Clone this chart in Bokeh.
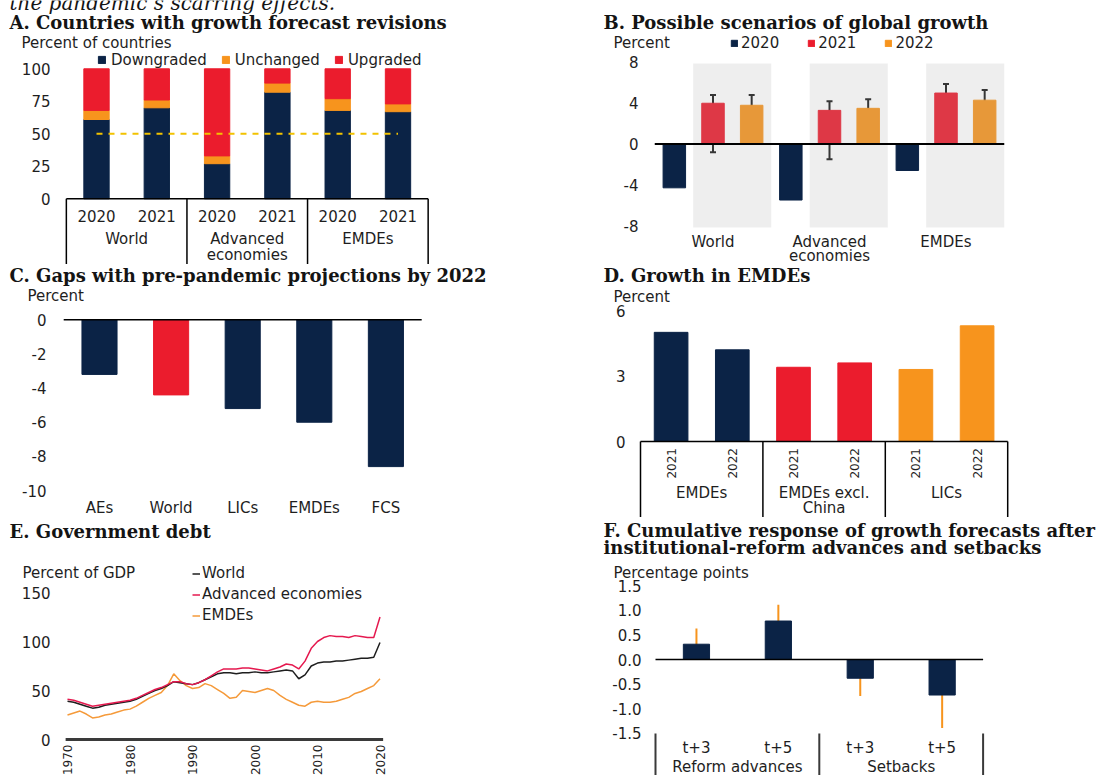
import numpy as np
from bokeh.plotting import figure
from bokeh.models import (ColumnDataSource, Range1d, Label, Legend, LegendItem, FixedTicker,
                          PrintfTickFormatter, Whisker, TeeHead)
from bokeh.layouts import column, row
from bokeh.embed import file_html
from bokeh.resources import INLINE
from bokeh.core.properties import value

# ---------------- data ----------------
# A. Countries with growth forecast revisions
a_groups = ["World", "Advanced\neconomies", "EMDEs"]
a_years = ["2020", "2021"]
a_series = ["Downgraded", "Unchanged", "Upgraded"]
a_downgraded = [61, 70, 27, 82, 68, 67]
a_unchanged = [7, 6, 6, 7, 9, 6]
a_upgraded = [32, 24, 67, 11, 23, 27]
a_threshold = 50
a_yticks = [0, 25, 50, 75, 100]

# B. Possible scenarios of global growth
b_groups = ["World", "Advanced\neconomies", "EMDEs"]
b_years = ["2020", "2021", "2022"]
b_2020 = [-4.3, -5.5, -2.6]
b_2021 = [4.0, 3.3, 5.0]
b_2022 = [3.8, 3.5, 4.3]
b_2021_low = [-0.8, -1.5, 0.5]
b_2021_high = [4.8, 4.2, 5.9]
b_2022_low = [1.8, 1.4, 2.6]
b_2022_high = [4.8, 4.4, 5.3]
b_yticks = [-8, -4, 0, 4, 8]

# C. Gaps with pre-pandemic projections by 2022
c_cats = ["AEs", "World", "LICs", "EMDEs", "FCS"]
c_vals = [-3.2, -4.4, -5.2, -6.0, -8.6]
c_yticks = [-10, -8, -6, -4, -2, 0]

# D. Growth in EMDEs
d_groups = ["EMDEs", "EMDEs excl.\nChina", "LICs"]
d_years = ["2021", "2022"]
d_vals = [5.0, 4.2, 3.4, 3.6, 3.3, 5.3]
d_yticks = [0, 3, 6]

# E. Government debt
e_years = list(range(1970, 2021))
e_world = [39, 38, 36, 34, 32, 33, 35, 36, 37, 38,
           39, 41, 44, 47, 50, 52, 55, 59, 58, 57,
           56, 58, 61, 64, 67, 68, 68, 67, 68, 68,
           69, 68, 68, 69, 70, 71, 70, 62, 66, 75,
           78, 79, 79, 80, 80, 81, 82, 83, 83, 84,
           99]
e_adv = [41, 40, 38, 36, 34, 35, 36, 37, 38, 39,
         40, 42, 45, 48, 51, 53, 56, 59, 59, 57,
         56, 58, 61, 65, 69, 72, 72, 72, 73, 73,
         72, 71, 70, 72, 74, 77, 76, 72, 80, 93,
         100, 104, 106, 105, 105, 104, 106, 105, 104, 104,
         125]
e_emde = [25, 27, 29, 26, 22, 23, 25, 26, 28, 30,
          31, 34, 38, 42, 45, 48, 55, 67, 60, 55,
          52, 53, 57, 55, 51, 47, 42, 43, 50, 49,
          48, 50, 52, 50, 45, 41, 38, 35, 34, 38,
          39, 38, 38, 39, 41, 43, 47, 49, 52, 55,
          62]
e_series = ["World", "Advanced economies", "EMDEs"]
e_yticks = [0, 50, 100, 150]
e_xticks = [1970, 1980, 1990, 2000, 2010, 2020]

# F. Cumulative response of growth forecasts
f_groups = ["Reform advances", "Setbacks"]
f_horizons = ["t+3", "t+5"]
f_vals = [0.31, 0.78, -0.38, -0.72]
f_low = [0.0, 0.44, -0.74, -1.39]
f_high = [0.63, 1.11, -0.03, -0.05]
f_yticks = [-1.5, -1.0, -0.5, 0.0, 0.5, 1.0, 1.5]

# ---------------- style ----------------
NAVY = "#0B2346"
RED = "#EB1C2D"
ORANGE = "#F7941D"
TXT = "#1E1E1E"
SANS = "DejaVu Sans"
SERIF = "DejaVu Serif"
FS = "15px"


def make_fig(w, h, x0, xu, y0, yu, yticks, fmt, label_right):
    """Frame covers the whole figure; pixel mapping px = x0 + xu*x, py = y0 - yu*y."""
    xr = Range1d(-x0 / xu, (w - x0) / xu)
    yr = Range1d((y0 - h) / yu, y0 / yu)
    p = figure(width=w, height=h, x_range=xr, y_range=yr, title=None,
               toolbar_location=None, output_backend="svg", x_axis_location=None,
               min_border_left=0, min_border_right=0, min_border_top=0, min_border_bottom=0)
    p.outline_line_color = None
    p.grid.grid_line_color = None
    p.background_fill_color = "white"
    p.border_fill_color = "white"
    ax = p.yaxis[0]
    ax.ticker = FixedTicker(ticks=yticks)
    ax.formatter = PrintfTickFormatter(format=fmt)
    ax.axis_line_color = None
    ax.major_tick_line_color = None
    ax.minor_tick_line_color = None
    ax.major_tick_out = 0
    ax.major_tick_in = 0
    ax.minor_tick_out = 0
    ax.major_label_standoff = -label_right
    ax.major_label_text_font = SANS
    ax.major_label_text_font_size = FS
    ax.major_label_text_color = TXT
    return p


def label(p, x, y, text, size=FS, font=SANS, style="normal", color=TXT, baseline="middle"):
    p.add_layout(Label(x=x, y=y, x_units="canvas", y_units="canvas", text=text,
                       text_font=font, text_font_size=size, text_font_style=style,
                       text_color=color, text_align="left", text_baseline=baseline))


def title(p, x, y, text):
    label(p, x, y, text, size="18px", font=SERIF, style="bold", color="#141414")


def txt(p, xs, ys, texts, size=FS, angle=0.0, align="center"):
    src = ColumnDataSource(dict(x=list(xs), y=list(ys), t=list(texts)))
    p.text(x="x", y="y", text="t", source=src, text_font=value(SANS),
           text_font_size=value(size), text_color=TXT, text_align=align,
           text_baseline="middle", angle=angle)


def group_labels(p, centers, labels, y_first, step):
    xs, ys, ts = [], [], []
    for c, lab in zip(centers, labels):
        for i, line in enumerate(lab.split("\n")):
            xs.append(c)
            ys.append(y_first - i * step)
            ts.append(line)
    txt(p, xs, ys, ts)


def legend(p, items, x, y, orientation, gw, gh, rh, standoff, spacing):
    lg = Legend(items=[LegendItem(label=l, renderers=[r]) for l, r in items],
                location=(x, y), orientation=orientation, glyph_width=gw, glyph_height=gh,
                label_height=rh, label_standoff=standoff, spacing=spacing, padding=0, margin=0,
                label_text_font=SANS, label_text_font_size=FS, label_text_color=TXT,
                background_fill_alpha=0, border_line_color=None)
    p.add_layout(lg)


def box(p, n_groups, per_group, y_top, line_color="black", width=1.5, top_line=True):
    seps = np.arange(n_groups + 1) * per_group
    p.segment(x0=seps, y0=[y_top] * len(seps), x1=seps, y1=[p.y_range.start] * len(seps),
              line_color=line_color, line_width=width)
    if top_line:
        p.segment(x0=[seps[0]], y0=[y_top], x1=[seps[-1]], y1=[y_top],
                  line_color=line_color, line_width=width)


# ---------------- A ----------------
pA = make_fig(560, 264, 65.85, 60.3, 198.3, 1.3, a_yticks, "%d", 50)
xa = np.arange(len(a_downgraded)) + 0.5
srcA = ColumnDataSource(dict(x=xa, Downgraded=a_downgraded, Unchanged=a_unchanged,
                             Upgraded=a_upgraded))
rA = pA.vbar_stack(a_series, x="x", width=0.42, color=[NAVY, ORANGE, RED], source=srcA)
pA.line(x=[xa[0], xa[-1]], y=[a_threshold, a_threshold], line_color="#F2C200",
        line_width=2, line_dash="6 6")
box(pA, len(a_groups), len(a_years), 0)
txt(pA, xa, [-12.85] * len(xa), a_years * len(a_groups))
group_labels(pA, np.arange(len(a_groups)) * len(a_years) + len(a_years) / 2, a_groups, -31.3, 12.3)
legend(pA, list(zip(a_series, rA)), 97, 195.5, "horizontal", 9, 9, 9, 5, 14)
label(pA, 9, 2, "the pandemic\u2019s scarring effects.", size="20px", font=SERIF,
      style="italic", color="#141414", baseline="alphabetic")
title(pA, 9, 21.5, "A. Countries with growth forecast revisions")
label(pA, 21, 42, "Percent of countries")

# ---------------- B ----------------
pB = make_fig(560, 264, 152.5, 116.5, 143.5, 10.19, b_yticks, "%d", 78)
xb = np.arange(len(b_groups))
off, bw = 0.332, 0.193
rB = []
for i, (vals, col) in enumerate([(b_2020, NAVY), (b_2021, RED), (b_2022, ORANGE)]):
    rB.append(pB.vbar(x=xb + (i - 1) * off, top=vals, bottom=0, width=bw, color=col))
pB.quad(left=xb - 0.17, right=xb + 0.5, bottom=-8.2, top=7.9, fill_color="#A8A8A8",
        fill_alpha=0.2, line_color=None)
pB.segment(x0=[xb[0] - 0.5], y0=[0], x1=[xb[-1] + 0.5], y1=[0], line_color="black", line_width=2)
for i, (lo, hi) in enumerate([(b_2021_low, b_2021_high), (b_2022_low, b_2022_high)]):
    srcW = ColumnDataSource(dict(x=xb + i * off, lo=lo, hi=hi))
    pB.add_layout(Whisker(source=srcW, base="x", lower="lo", upper="hi",
                          line_color="#1A1A1A", line_width=2,
                          upper_head=TeeHead(size=6, line_color="#1A1A1A", line_width=2),
                          lower_head=TeeHead(size=6, line_color="#1A1A1A", line_width=2)))
group_labels(pB, xb, b_groups, -9.57, 1.42)
legend(pB, list(zip(b_years, rB)), 170, 212.5, "horizontal", 8, 8, 9, 3, 28)
title(pB, 43, 21.5, "B. Possible scenarios of global growth")
label(pB, 53, 42, "Percent")

# ---------------- C ----------------
pC = make_fig(560, 253, 63.2, 71.6, 55.3, 17.07, c_yticks, "%d", 46)
xc = np.arange(len(c_cats)) + 0.5
c_colors = [RED if c == "World" else NAVY for c in c_cats]
pC.vbar(x=xc, top=0, bottom=c_vals, width=0.49, color=c_colors)
pC.segment(x0=[0], y0=[0], x1=[len(c_cats)], y1=[0], line_color="black", line_width=1.5)
txt(pC, xc, [-11.0] * len(xc), c_cats)
title(pC, 9, 10.5, "C. Gaps with pre-pandemic projections by 2022")
label(pC, 27, 31, "Percent")

# ---------------- D ----------------
pD = make_fig(560, 253, 80, 61.2, 177, 21.83, d_yticks, "%d", 65)
xd = np.arange(len(d_vals)) + 0.5
grp_colors = [NAVY, RED, ORANGE]
d_colors = [grp_colors[i // len(d_years)] for i in range(len(d_vals))]
pD.vbar(x=xd, top=d_vals, width=0.55, color=d_colors)
box(pD, len(d_groups), len(d_years), 0)
txt(pD, xd, [-1.0] * len(xd), d_years * len(d_groups), size="12px", angle=np.pi / 2)
group_labels(pD, np.arange(len(d_groups)) * len(d_years) + len(d_years) / 2, d_groups, -2.38, 0.66)
title(pD, 43, 11, "D. Growth in EMDEs")
label(pD, 53, 32, "Percent")

# ---------------- E ----------------
pE = make_fig(560, 258, 67 - 6.25 * 1970, 6.25, 222, 0.98, e_yticks, "%d", 50)
pE.segment(x0=[e_years[0] - 0.3], y0=[0], x1=[e_years[-1] + 0.5], y1=[0],
           line_color="#3A3A3A", line_width=3)
rE_em = pE.line(e_years, e_emde, line_color="#F59A3A", line_width=1.5)
rE_w = pE.line(e_years, e_world, line_color="#1E1E1E", line_width=1.5)
rE_a = pE.line(e_years, e_adv, line_color="#E5194F", line_width=1.5)
txt(pE, e_xticks, [-5.1] * len(e_xticks), [str(y) for y in e_xticks], size="12px",
    angle=np.pi / 2, align="right")
legend(pE, list(zip(e_series, [rE_w, rE_a, rE_em])), 192, 149.5, "vertical", 8, 21, 21, 2, 0)
title(pE, 9, 14, "E. Government debt")
label(pE, 22, 55, "Percent of GDP")

# ---------------- F ----------------
pF = make_fig(560, 258, 95, 81.9, 142, 49.33, f_yticks, "%.1f", 81)
xf = np.arange(len(f_vals)) + 0.5
pF.vbar(x=xf, top=f_vals, width=0.32, color=NAVY)
pF.segment(x0=[0], y0=[0], x1=[len(f_vals)], y1=[0], line_color="black", line_width=1.5)
srcF = ColumnDataSource(dict(x=xf, lo=f_low, hi=f_high))
pF.add_layout(Whisker(source=srcF, base="x", lower="lo", upper="hi", line_color=ORANGE,
                      line_width=2, upper_head=None, lower_head=None))
box(pF, len(f_groups), len(f_horizons), f_yticks[0], line_color="#3A3A3A", width=2, top_line=False)
txt(pF, xf, [-1.80] * len(xf), f_horizons * len(f_groups))
group_labels(pF, np.arange(len(f_groups)) * len(f_horizons) + len(f_horizons) / 2, f_groups, -2.17, 0.3)
title(pF, 43, 13, "F. Cumulative response of growth forecasts after")
title(pF, 43, 30, "institutional-reform advances and setbacks")
label(pF, 53, 55, "Percentage points")

layout = column(row(pA, pB), row(pC, pD), row(pE, pF))
open("out.html", "w").write(file_html(layout, INLINE))
